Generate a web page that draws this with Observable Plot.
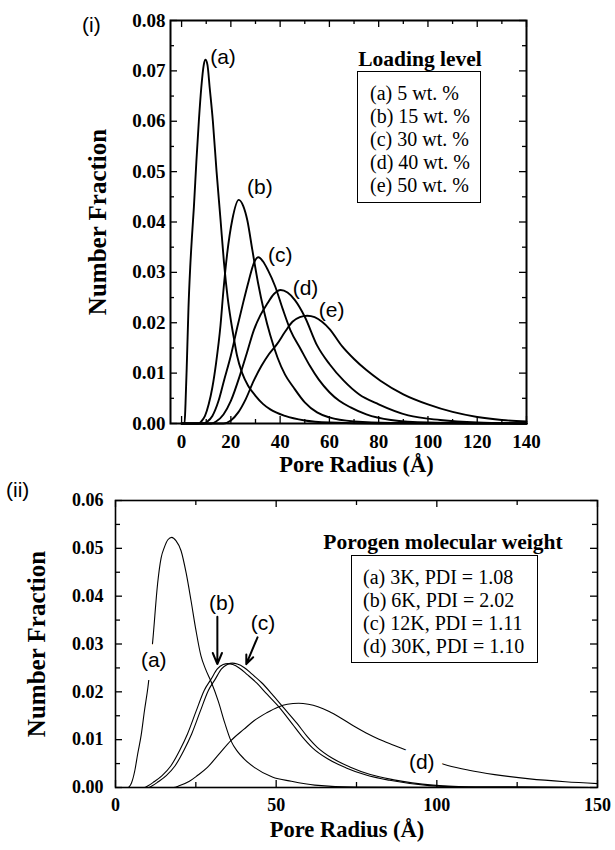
<!DOCTYPE html>
<html><head><meta charset="utf-8">
<script src="https://cdn.jsdelivr.net/npm/d3@7"></script>
<script src="https://cdn.jsdelivr.net/npm/@observablehq/plot@0.6"></script>
<style>
body{margin:0;background:#fff;}
#wrap{position:relative;width:615px;height:850px;overflow:hidden;background:#fff;}
#wrap svg{position:absolute;left:0;background:transparent;}
.tag{position:absolute;font-family:"Liberation Sans",Arial,sans-serif;font-size:21px;line-height:21px;}
.legtitle{position:absolute;font-family:"Liberation Serif",serif;font-weight:bold;font-size:21.5px;line-height:22px;white-space:nowrap;transform:translate(-50%,-50%);}
.legbox{position:absolute;border:1.5px solid #000;box-sizing:border-box;font-family:"Liberation Serif",serif;font-size:20px;line-height:23px;white-space:nowrap;background:#fff;}
</style></head><body><div id="wrap"></div>
<script>
// ---------- Panel (i): loading level ----------
const loadingKeys = ["(a)", "(b)", "(c)", "(d)", "(e)"];
const loadingLegend = ["(a) 5 wt. %", "(b) 15 wt. %", "(c) 30 wt. %", "(d) 40 wt. %", "(e) 50 wt. %"];
const curve1a = [[0,0],[1.2,0],[1.6,0.004],[2.2,0.013],[2.8,0.023],[3.5,0.031],[4.2,0.037],[5,0.043],[6,0.052],[7,0.060],[8,0.0667],[9,0.0712],[9.7,0.0722],[10.5,0.0712],[11.4,0.0667],[12.7,0.060],[14.2,0.050],[15.8,0.0405],[17.2,0.032],[18.7,0.025],[20,0.0205],[21.2,0.017],[22.5,0.0135],[24.6,0.010],[27,0.0075],[30,0.0055],[33,0.0039],[36,0.0028],[42,0.0015],[50,0.0006],[60,0.0002],[80,0],[140,0]];
const curve1b = [[0,0],[7,0],[8,0.0004],[9.5,0.0015],[11,0.0038],[12.5,0.0072],[14,0.012],[15.8,0.0195],[17,0.0265],[18.5,0.0337],[20.6,0.0405],[23.2,0.0444],[25,0.0432],[26.7,0.0403],[28.7,0.0345],[31,0.028],[33.5,0.0222],[36,0.0175],[39,0.013],[42,0.0097],[45.4,0.0072],[50,0.0042],[55,0.0022],[60,0.0012],[70,0.0004],[85,0.0001],[140,0]];
const curve1c = [[0,0],[9,0],[10.5,0.0004],[12.5,0.0015],[15,0.0045],[17.2,0.0085],[20,0.0135],[22.6,0.0191],[25,0.024],[27.3,0.0284],[29.3,0.0318],[31.2,0.033],[33,0.0322],[35,0.0305],[38,0.0272],[41,0.0228],[44.2,0.0185],[48.3,0.0148],[52,0.0115],[55.7,0.0087],[60,0.0062],[64,0.0045],[68.6,0.0032],[75,0.0018],[85,0.0007],[100,0.0002],[140,0]];
const curve1d = [[0,0],[12,0],[14,0.0004],[17,0.0018],[20,0.0045],[23.9,0.0099],[26.5,0.014],[29.3,0.0185],[32,0.0215],[34.8,0.0238],[37.5,0.0257],[40.2,0.0265],[43,0.026],[46,0.0245],[50,0.0212],[55,0.0155],[60,0.0118],[65.8,0.0085],[72,0.0058],[80,0.0038],[92,0.0016],[105,0.0007],[120,0.0002],[140,0]];
const curve1e = [[0,0],[17,0],[20,0.0006],[23,0.0022],[26,0.0048],[29.3,0.0085],[32.5,0.0115],[35.5,0.0138],[38.8,0.0158],[42,0.0182],[45,0.0202],[48,0.0211],[51,0.0214],[54,0.0211],[57,0.0202],[60,0.0188],[65.2,0.0153],[70,0.0128],[75,0.0106],[80.7,0.0085],[90,0.0058],[100,0.0038],[110,0.0023],[120,0.0013],[130,0.0007],[140,0.0004]];
const labels1 = [["(a)",16.8,0.0728],["(b)",31.8,0.0468],["(c)",40,0.0333],["(d)",50.3,0.0268],["(e)",60.9,0.0224]];
const xMajor1 = [0,20,40,60,80,100,120,140];
const xMinor1 = [10,30,50,70,90,110,130];
const yMajor1 = [0,0.01,0.02,0.03,0.04,0.05,0.06,0.07,0.08];
const yMinor1 = [0.005,0.015,0.025,0.035,0.045,0.055,0.065,0.075];

// ---------- Panel (ii): porogen molecular weight ----------
const porogenKeys = ["(a)", "(b)", "(c)", "(d)"];
const porogenLegend = ["(a) 3K, PDI = 1.08", "(b) 6K, PDI = 2.02", "(c) 12K, PDI = 1.11", "(d) 30K, PDI = 1.10"];
const curve2a = [[0,0],[3.8,0],[5,0.001],[6,0.0035],[6.9,0.007],[8,0.011],[9,0.016],[10.1,0.021],[11.6,0.0307],[13.1,0.0426],[14.2,0.048],[15.2,0.0502],[16.3,0.0518],[17.5,0.0523],[18.8,0.0516],[20.4,0.0495],[22,0.0448],[23.5,0.0391],[25,0.033],[26.6,0.0275],[28,0.0248],[29.7,0.0222],[32,0.018],[34,0.0135],[35.9,0.0098],[38,0.0075],[40,0.006],[43.2,0.0042],[48.8,0.0022],[54.7,0.0013],[62,0.0005],[75,0.0001],[150,0]];
const curve2b = [[0,0],[9,0],[10,0.0003],[12,0.0012],[14.5,0.0025],[17.2,0.0045],[20,0.0078],[22.4,0.0112],[25,0.0158],[27.6,0.0203],[29.7,0.0226],[31.7,0.0248],[33.5,0.0257],[35,0.0259],[36.5,0.0257],[38.5,0.025],[41,0.0236],[44,0.0218],[47,0.0196],[50.9,0.0168],[55,0.0133],[58,0.0107],[61.3,0.0083],[66,0.006],[71.8,0.0041],[78,0.0026],[85.3,0.0015],[97.7,0.0004],[110,0.0001],[150,0]];
const curve2c = [[0,0],[10.3,0],[11.3,0.0003],[13.3,0.0012],[15.8,0.0025],[18.5,0.0045],[21.3,0.0078],[23.7,0.0112],[26.3,0.0158],[28.9,0.0203],[31,0.0226],[33,0.0248],[34.8,0.0257],[36.4,0.026],[37.9,0.0258],[40,0.0251],[42.5,0.0237],[45.5,0.0219],[48.5,0.0197],[52.3,0.0167],[56.5,0.0134],[59.5,0.0108],[62.8,0.0084],[67.5,0.0061],[73.3,0.0042],[79.3,0.0027],[86.6,0.0016],[98.8,0.0005],[112,0.0001],[150,0]];
const curve2d = [[0,0],[18,0],[20,0.0004],[23,0.0013],[25.5,0.0025],[28.6,0.0042],[32,0.0068],[35.9,0.0098],[40,0.0122],[43.2,0.014],[47,0.0156],[50.5,0.0168],[53.5,0.0174],[57,0.0176],[60,0.0174],[63,0.0169],[66.5,0.0159],[69.7,0.0147],[74,0.0129],[78,0.0114],[82,0.0101],[86.8,0.0088],[95,0.0066],[103.4,0.0046],[110,0.0036],[118,0.0027],[128.9,0.0018],[140,0.0012],[150,0.0008]];
const labels2 = [["(a)",11.9,0.0266],["(b)",33.1,0.0385],["(c)",45.9,0.0343],["(d)",95.3,0.0052]];
const arrows2 = [[31.7,0.0357,31.7,0.0258],[44.2,0.0314,40.7,0.0258]];
const xMajor2 = [0,50,100,150];
const xMinor2 = [25,75,125];
const yMajor2 = [0,0.01,0.02,0.03,0.04,0.05,0.06];
const yMinor2 = [0.005,0.015,0.025,0.035,0.045,0.055];

// ---------- helpers ----------
function rows(keys, curves) {
  return keys.flatMap((k, i) => curves[i].map(([x, y]) => ({k, x, y})));
}
const serif = "Liberation Serif, Times New Roman, serif";
const sans = "Liberation Sans, Arial, sans-serif";

function frameTicks(innerW, innerH, xMaj, xMin, yMaj, yMin, majLen, minLen, sw) {
  const o = {stroke: "#000", strokeWidth: sw};
  return [
    Plot.tickX(xMaj, {x: d => d, insetTop: innerH - majLen, ...o}),
    Plot.tickX(xMin, {x: d => d, insetTop: innerH - minLen, ...o}),
    Plot.tickX(xMaj, {x: d => d, insetBottom: innerH - majLen, ...o}),
    Plot.tickX(xMin, {x: d => d, insetBottom: innerH - minLen, ...o}),
    Plot.tickY(yMaj, {y: d => d, insetRight: innerW - majLen, ...o}),
    Plot.tickY(yMin, {y: d => d, insetRight: innerW - minLen, ...o}),
    Plot.tickY(yMaj, {y: d => d, insetLeft: innerW - majLen, ...o}),
    Plot.tickY(yMin, {y: d => d, insetLeft: innerW - minLen, ...o})
  ];
}

const wrap = document.getElementById("wrap");

// ---------- Panel (i) ----------
{
  const W = 615, H = 480, mL = 170, mR = 89, mT = 20, mB = 57;
  const data = rows(loadingKeys, [curve1a, curve1b, curve1c, curve1d, curve1e]);
  const svg = Plot.plot({
    width: W, height: H, marginLeft: mL, marginRight: mR, marginTop: mT, marginBottom: mB,
    style: {background: "transparent", overflow: "visible"},
    x: {domain: [-4.5, 140]},
    y: {domain: [0, 0.08]},
    marks: [
      Plot.line(data, {x: "x", y: "y", z: "k", stroke: "#000", strokeWidth: 1.9, curve: "monotone-x"}),
      Plot.frame({stroke: "#000", strokeWidth: 2}),
      ...frameTicks(W - mL - mR, H - mT - mB, xMajor1, xMinor1, yMajor1, yMinor1, 7, 4, 1.3),
      Plot.axisX({ticks: xMajor1, tickSize: 0, tickPadding: 11, tickFormat: d => String(d), label: null,
        fontFamily: serif, fontWeight: "bold", fontSize: 19}),
      Plot.axisY({ticks: yMajor1, tickSize: 0, tickPadding: 5, tickFormat: d3.format(".2f"), label: null,
        fontFamily: serif, fontWeight: "bold", fontSize: 19}),
      Plot.text(labels1, {x: d => d[1], y: d => d[2], text: d => d[0], fontFamily: sans, fontSize: 21}),
      Plot.text(["Pore Radius (Å)"], {frameAnchor: "bottom", textAnchor: "middle", dy: 48, dx: 8, fontFamily: serif, fontWeight: "bold", fontSize: 22.5}),
      Plot.text(["Number Fraction"], {frameAnchor: "left", textAnchor: "middle", dx: -73, rotate: -90, fontFamily: serif, fontWeight: "bold", fontSize: 25})
    ]
  });
  svg.style.top = "0px";
  wrap.appendChild(svg);
}

// ---------- Panel (ii) ----------
{
  const W = 615, H = 370, mL = 115, mR = 18, mT = 20, mB = 63;
  const data = rows(porogenKeys, [curve2a, curve2b, curve2c, curve2d]);
  const svg = Plot.plot({
    width: W, height: H, marginLeft: mL, marginRight: mR, marginTop: mT, marginBottom: mB,
    style: {background: "transparent", overflow: "visible"},
    x: {domain: [0, 150]},
    y: {domain: [0, 0.06]},
    marks: [
      Plot.line(data, {x: "x", y: "y", z: "k", stroke: "#000", strokeWidth: 1.1, curve: "monotone-x"}),
      Plot.text(labels2, {x: d => d[1], y: d => d[2], text: d => d[0], fontFamily: sans, fontSize: 21,
        fill: "#000", stroke: "#fff", strokeWidth: 18, strokeLinejoin: "round"}),
      Plot.arrow(arrows2, {x1: d => d[0], y1: d => d[1], x2: d => d[2], y2: d => d[3],
        stroke: "#000", strokeWidth: 2, headLength: 9, headAngle: 45}),
      Plot.frame({stroke: "#000", strokeWidth: 1.6}),
      ...frameTicks(W - mL - mR, H - mT - mB, xMajor2, xMinor2, yMajor2, yMinor2, 7, 5, 1.3),
      Plot.axisX({ticks: xMajor2, tickSize: 0, tickPadding: 11, tickFormat: d => String(d), label: null,
        fontFamily: serif, fontWeight: "bold", fontSize: 18}),
      Plot.axisY({ticks: yMajor2, tickSize: 0, tickPadding: 12, tickFormat: d3.format(".2f"), label: null,
        fontFamily: serif, fontWeight: "bold", fontSize: 18}),
      Plot.text(["Pore Radius (Å)"], {frameAnchor: "bottom", textAnchor: "middle", dy: 49, dx: -9.5, fontFamily: serif, fontWeight: "bold", fontSize: 22.5}),
      Plot.text(["Number Fraction"], {frameAnchor: "left", textAnchor: "middle", dx: -79, rotate: -90, fontFamily: serif, fontWeight: "bold", fontSize: 25})
    ]
  });
  svg.style.top = "480px";
  wrap.appendChild(svg);
}

// ---------- panel tags and legends (HTML overlays) ----------
function addTag(text, left, top) {
  const d = document.createElement("div");
  d.className = "tag"; d.textContent = text;
  d.style.left = left + "px"; d.style.top = top + "px";
  wrap.appendChild(d);
}
function addLegend(title, titleCx, titleCy, entries, left, top, width, height, padL, padT) {
  const t = document.createElement("div");
  t.className = "legtitle"; t.textContent = title;
  t.style.left = titleCx + "px"; t.style.top = titleCy + "px";
  wrap.appendChild(t);
  const b = document.createElement("div");
  b.className = "legbox";
  Object.assign(b.style, {left: left + "px", top: top + "px", width: width + "px", height: height + "px",
    paddingLeft: padL + "px", paddingTop: padT + "px"});
  for (const e of entries) {
    const r = document.createElement("div");
    r.textContent = e;
    b.appendChild(r);
  }
  wrap.appendChild(b);
}
addTag("(i)", 82, 14);
addTag("(ii)", 6, 479);
addLegend("Loading level", 420, 59, loadingLegend, 357, 71, 124, 132, 12, 10);
addLegend("Porogen molecular weight", 443, 542, porogenLegend, 351, 555, 187, 108, 11, 10);
</script></body></html>
